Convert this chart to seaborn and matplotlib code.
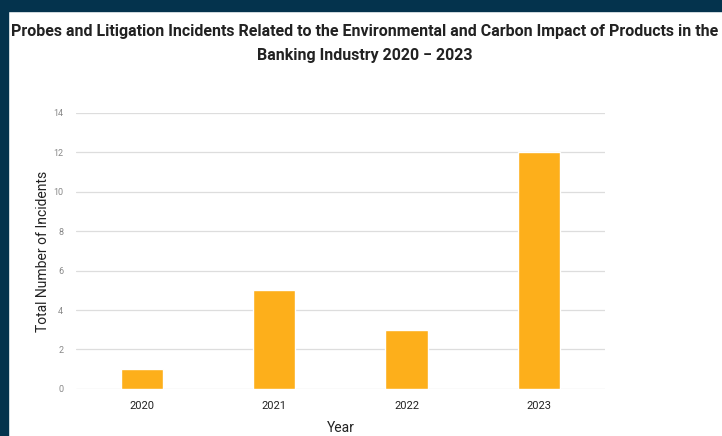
import matplotlib
matplotlib.use('Agg')
import matplotlib.pyplot as plt
from matplotlib.patches import Rectangle
import pandas as pd
import seaborn as sns

years = ['2020', '2021', '2022', '2023']
incidents = [1, 5, 3, 12]
y_ticks = [0, 2, 4, 6, 8, 10, 12, 14]


def main():
	df = pd.DataFrame({'year': years, 'incidents': incidents})

	sns.set_style('white')
	plt.rcParams['font.family'] = ['Roboto', 'DejaVu Sans']

	fig = plt.figure(figsize=(7.22, 4.36), dpi=100)
	fig.patch.set_facecolor('white')

	# dark frame on top and left edge
	fig.patches.append(Rectangle((0, 1 - 11 / 436), 1, 11 / 436, transform=fig.transFigure,
		color='#04334d', zorder=0))
	fig.patches.append(Rectangle((0, 0), 8 / 722, 1, transform=fig.transFigure,
		color='#04334d', zorder=0))

	ax = fig.add_axes([0.105, 0.108, 0.733, 0.633])
	sns.barplot(x='year', y='incidents', data=df, color='#fdaf1b', width=0.32,
		saturation=1, ax=ax, zorder=3)

	ax.set_ylim(0, 14)
	ax.set_xlim(-0.5, 3.5)
	ax.set_yticks(y_ticks)
	ax.yaxis.grid(True, color='#dddddd', linewidth=0.9, zorder=0)
	ax.set_axisbelow(True)
	sns.despine(ax=ax, left=True, bottom=True)
	ax.tick_params(axis='y', length=0, pad=9, labelsize=6.5, labelcolor='#888888')
	ax.tick_params(axis='x', length=0, pad=9, labelsize=8, labelcolor='#222222')
	for lbl in ax.get_xticklabels():
		lbl.set_fontstretch('condensed')

	ax.set_xlabel('Year', fontsize=10, color='#222222', labelpad=7)
	ax.set_ylabel('Total Number of Incidents', fontsize=10, color='#222222', labelpad=2)

	fig.text(0.505, 0.927, 'Probes and Litigation Incidents Related to the Environmental and Carbon Impact of Products in the',
		ha='center', va='center', fontsize=11.5, fontweight='bold', color='#222222')
	fig.text(0.505, 0.872, 'Banking Industry 2020 \u2212 2023',
		ha='center', va='center', fontsize=11.5, fontweight='bold', color='#222222')

	fig.savefig('out.png', dpi=100)


if __name__ == '__main__':
	main()
